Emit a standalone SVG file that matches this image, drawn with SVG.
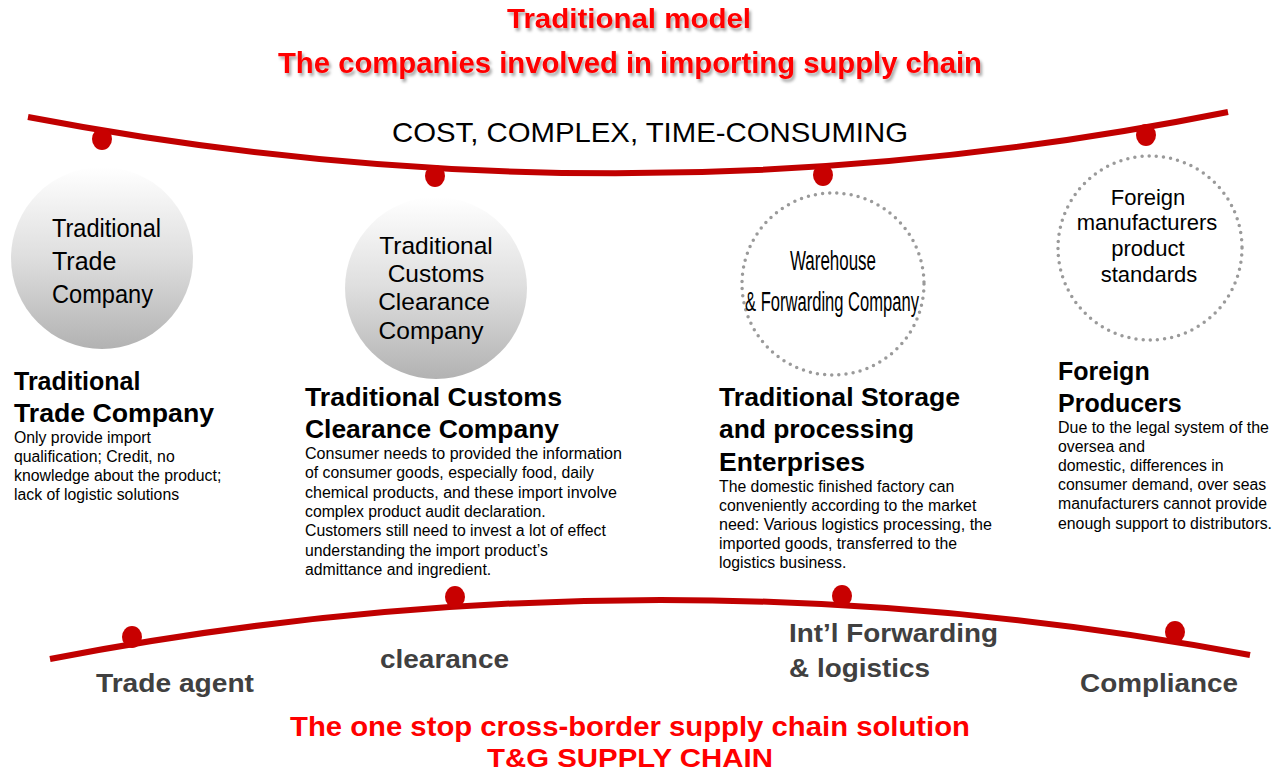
<svg xmlns="http://www.w3.org/2000/svg" width="1274" height="773" viewBox="0 0 1274 773">
<defs>
<linearGradient id="sph" x1="0" y1="0" x2="0" y2="1">
<stop offset="0" stop-color="#ffffff"/>
<stop offset="0.5" stop-color="#dedede"/>
<stop offset="1" stop-color="#b2b2b2"/>
</linearGradient>
<filter id="sh" x="-5%" y="-30%" width="110%" height="160%">
<feDropShadow dx="2" dy="3" stdDeviation="1.5" flood-color="#000" flood-opacity="0.35"/>
</filter>
</defs>
<style>
.red{font-family:"Liberation Sans",Arial,sans-serif;font-weight:bold;fill:#ff0000;text-anchor:middle}
.ctext{font-family:"Liberation Sans",Arial,sans-serif;fill:#000}
.head{font-family:"Liberation Sans",Arial,sans-serif;font-weight:bold;font-size:25px;fill:#000}
.body{font-family:"Liberation Sans",Arial,sans-serif;font-size:15.8px;fill:#000}
.lbl{font-family:"Liberation Sans",Arial,sans-serif;font-weight:bold;font-size:25px;fill:#404040}
.curve{fill:none;stroke:#c00000;stroke-width:6}
.dot{fill:#c80000}
.dotted{fill:none;stroke:#9a9a9a;stroke-width:3.5;stroke-linecap:round;stroke-dasharray:0 7.2}
</style>

<g id="titles" filter="url(#sh)">
<text class="red" x="629" y="28" font-size="27" textLength="244" lengthAdjust="spacingAndGlyphs">Traditional model</text>
<text class="red" x="630" y="73" font-size="29" textLength="704" lengthAdjust="spacingAndGlyphs">The companies involved in importing supply chain</text>
</g>

<g id="connectors">
<path class="curve" d="M28,117 Q628,232 1228,112"/>
<ellipse class="dot" cx="102" cy="139" rx="10" ry="11"/>
<ellipse class="dot" cx="435" cy="176" rx="10" ry="11"/>
<ellipse class="dot" cx="823" cy="175" rx="10" ry="11"/>
<ellipse class="dot" cx="1146" cy="135" rx="10" ry="11"/>
<path class="curve" d="M50,659 Q650,543 1250,655"/>
<ellipse class="dot" cx="132" cy="637" rx="10" ry="11"/>
<ellipse class="dot" cx="455" cy="597" rx="10" ry="11"/>
<ellipse class="dot" cx="842" cy="596" rx="10" ry="11"/>
<ellipse class="dot" cx="1175" cy="632" rx="10" ry="11"/>
</g>

<text x="650" y="142" class="ctext" font-size="28" text-anchor="middle" textLength="516" lengthAdjust="spacingAndGlyphs">COST, COMPLEX, TIME-CONSUMING</text>

<g id="node-trade">
<circle cx="102" cy="258" r="91" fill="url(#sph)"/>
<text class="ctext" font-size="25" x="52" y="237" textLength="109" lengthAdjust="spacingAndGlyphs">Traditional</text>
<text class="ctext" font-size="25" x="52" y="270">Trade</text>
<text class="ctext" font-size="25" x="52" y="303" textLength="101" lengthAdjust="spacingAndGlyphs">Company</text>
<text class="head" x="14" y="390">Traditional</text>
<text class="head" x="14" y="422" textLength="200" lengthAdjust="spacingAndGlyphs">Trade Company</text>
<text class="body" x="14" y="443">Only provide import</text>
<text class="body" x="14" y="462">qualification; Credit, no</text>
<text class="body" x="14" y="481">knowledge about the product;</text>
<text class="body" x="14" y="500">lack of logistic solutions</text>
</g>

<g id="node-customs">
<circle cx="436" cy="288" r="91" fill="url(#sph)"/>
<text class="ctext" font-size="24.5" x="436" y="254" text-anchor="middle">Traditional</text>
<text class="ctext" font-size="24.5" x="436" y="282" text-anchor="middle">Customs</text>
<text class="ctext" font-size="24.5" x="434" y="310" text-anchor="middle">Clearance</text>
<text class="ctext" font-size="24.5" x="431" y="339" text-anchor="middle">Company</text>
<text class="head" x="305" y="406" textLength="257" lengthAdjust="spacingAndGlyphs">Traditional Customs</text>
<text class="head" x="305" y="438" textLength="254" lengthAdjust="spacingAndGlyphs">Clearance Company</text>
<text class="body" x="305" y="459" textLength="317" lengthAdjust="spacingAndGlyphs">Consumer needs to provided the information</text>
<text class="body" x="305" y="478">of consumer goods, especially food, daily</text>
<text class="body" x="305" y="498" textLength="312" lengthAdjust="spacingAndGlyphs">chemical products, and these import involve</text>
<text class="body" x="305" y="517">complex product audit declaration.</text>
<text class="body" x="305" y="536">Customers still need to invest a lot of effect</text>
<text class="body" x="305" y="556">understanding the import product’s</text>
<text class="body" x="305" y="575">admittance and ingredient.</text>
</g>

<g id="node-storage">
<circle class="dotted" cx="833" cy="284" r="91"/>
<text class="ctext" font-size="27" x="833" y="270" text-anchor="middle" textLength="86" lengthAdjust="spacingAndGlyphs">Warehouse</text>
<text class="ctext" font-size="27" x="832" y="311" text-anchor="middle" textLength="174" lengthAdjust="spacingAndGlyphs">&amp; Forwarding Company</text>
<text class="head" x="719" y="406" textLength="241" lengthAdjust="spacingAndGlyphs">Traditional Storage</text>
<text class="head" x="719" y="438" textLength="195" lengthAdjust="spacingAndGlyphs">and processing</text>
<text class="head" x="719" y="471" textLength="146" lengthAdjust="spacingAndGlyphs">Enterprises</text>
<text class="body" x="719" y="492">The domestic finished factory can</text>
<text class="body" x="719" y="511">conveniently according to the market</text>
<text class="body" x="719" y="530" textLength="273" lengthAdjust="spacingAndGlyphs">need: Various logistics processing, the</text>
<text class="body" x="719" y="549">imported goods, transferred to the</text>
<text class="body" x="719" y="568">logistics business.</text>
</g>

<g id="node-foreign">
<circle class="dotted" cx="1150" cy="248" r="92"/>
<text class="ctext" font-size="22" x="1148" y="205" text-anchor="middle">Foreign</text>
<text class="ctext" font-size="22" x="1147" y="230" text-anchor="middle">manufacturers</text>
<text class="ctext" font-size="22" x="1148" y="256" text-anchor="middle">product</text>
<text class="ctext" font-size="22" x="1149" y="282" text-anchor="middle">standards</text>
<text class="head" x="1058" y="380">Foreign</text>
<text class="head" x="1058" y="412">Producers</text>
<text class="body" x="1058" y="433" textLength="211" lengthAdjust="spacingAndGlyphs">Due to the legal system of the</text>
<text class="body" x="1058" y="452">oversea and</text>
<text class="body" x="1058" y="471">domestic, differences in</text>
<text class="body" x="1058" y="490">consumer demand, over seas</text>
<text class="body" x="1058" y="509">manufacturers cannot provide</text>
<text class="body" x="1058" y="529" textLength="214" lengthAdjust="spacingAndGlyphs">enough support to distributors.</text>
</g>

<g id="labels">
<text class="lbl" x="96" y="692" textLength="158" lengthAdjust="spacingAndGlyphs">Trade agent</text>
<text class="lbl" x="380" y="668" textLength="129" lengthAdjust="spacingAndGlyphs">clearance</text>
<text class="lbl" x="789" y="642" textLength="209" lengthAdjust="spacingAndGlyphs">Int’l Forwarding</text>
<text class="lbl" x="789" y="677" textLength="141" lengthAdjust="spacingAndGlyphs">&amp; logistics</text>
<text class="lbl" x="1080" y="692" textLength="158" lengthAdjust="spacingAndGlyphs">Compliance</text>
</g>

<g id="footer">
<text class="red" x="630" y="736" font-size="27" textLength="680" lengthAdjust="spacingAndGlyphs">The one stop cross-border supply chain solution</text>
<text class="red" x="630" y="767" font-size="26" textLength="286" lengthAdjust="spacingAndGlyphs">T&amp;G SUPPLY CHAIN</text>
</g>
</svg>
